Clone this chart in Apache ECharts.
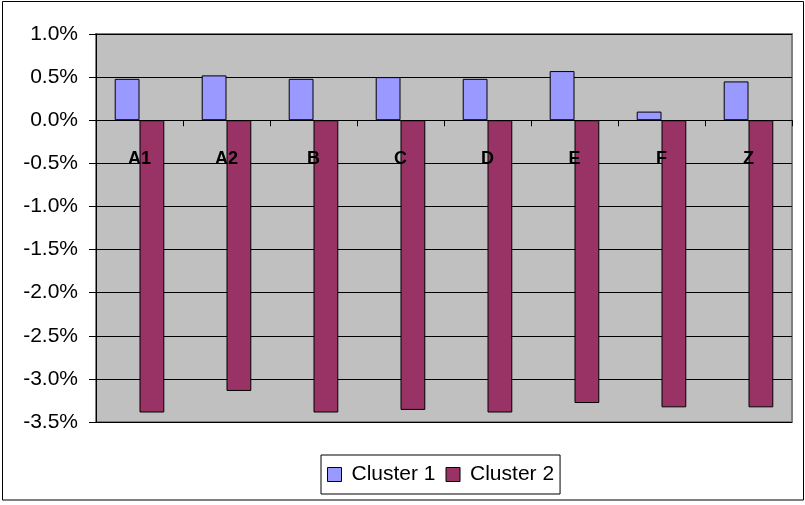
<!DOCTYPE html>
<html>
<head>
<meta charset="utf-8">
<script src="https://cdn.jsdelivr.net/npm/echarts@6/dist/echarts.min.js"></script>
<style>
  html, body { margin: 0; padding: 0; background: #fff; }
  #chart { width: 805px; height: 505px; }
</style>
</head>
<body>
<div id="chart"></div>
<script>
// Categories and series values (percent)
const categories = ['A1', 'A2', 'B', 'C', 'D', 'E', 'F', 'Z'];
const cluster1 = [0.48, 0.52, 0.48, 0.50, 0.48, 0.57, 0.10, 0.45];
const cluster2 = [-3.39, -3.14, -3.39, -3.36, -3.39, -3.28, -3.33, -3.33];
const yTicks = { min: -3.5, max: 1.0, step: 0.5 };

const FONT = 'Liberation Sans, Arial, sans-serif';
const chart = echarts.init(document.getElementById('chart'), null, { renderer: 'canvas' });

const barStyle = (color) => ({ color: color, borderColor: '#000', borderWidth: 1 });

chart.setOption({
  animation: false,
  backgroundColor: '#fff',
  textStyle: { fontFamily: FONT },
  graphic: [{
    type: 'rect',
    shape: { x: 2.5, y: 1.5, width: 801, height: 498.5 },
    style: { fill: 'none', stroke: '#000', lineWidth: 1 },
    silent: true
  }],
  grid: {
    left: 96, right: 13, top: 34, bottom: 83,
    show: true,
    backgroundColor: '#C0C0C0',
    borderColor: '#808080',
    borderWidth: 2
  },
  legend: {
    left: 321,
    top: 455,
    itemWidth: 14,
    itemHeight: 14,
    itemGap: 10,
    padding: [9, 6, 9, 6],
    borderColor: '#000',
    borderWidth: 1,
    backgroundColor: '#fff',
    icon: 'rect',
    itemStyle: { borderColor: '#000', borderWidth: 1 },
    textStyle: { fontSize: 21, color: '#000', fontFamily: FONT, padding: [0, 0, 0, 5] },
    data: ['Cluster 1', 'Cluster 2']
  },
  xAxis: {
    type: 'category',
    data: categories,
    boundaryGap: true,
    z: 5,
    axisLine: { onZero: true, lineStyle: { color: '#000', width: 1 } },
    axisTick: { show: true, length: 6, lineStyle: { color: '#000' } },
    axisLabel: { margin: -272, fontSize: 18, fontWeight: 'bold', color: '#000', verticalAlign: 'top' },
    splitLine: { show: false }
  },
  yAxis: {
    type: 'value',
    min: yTicks.min,
    max: yTicks.max,
    interval: yTicks.step,
    axisLine: { show: true, lineStyle: { color: '#000' } },
    axisTick: { show: true, length: 7, lineStyle: { color: '#000' } },
    axisLabel: {
      margin: 18,
      fontSize: 21,
      color: '#000',
      formatter: (v) => v.toFixed(1) + '%'
    },
    splitLine: { show: true, lineStyle: { color: '#000', width: 1 } }
  },
  series: [
    {
      name: 'Cluster 1',
      type: 'bar',
      data: cluster1,
      barGap: '0%',
      barCategoryGap: '43%',
      itemStyle: barStyle('#9999FF')
    },
    {
      name: 'Cluster 2',
      type: 'bar',
      data: cluster2,
      itemStyle: barStyle('#993366')
    }
  ]
});
</script>
</body>
</html>
